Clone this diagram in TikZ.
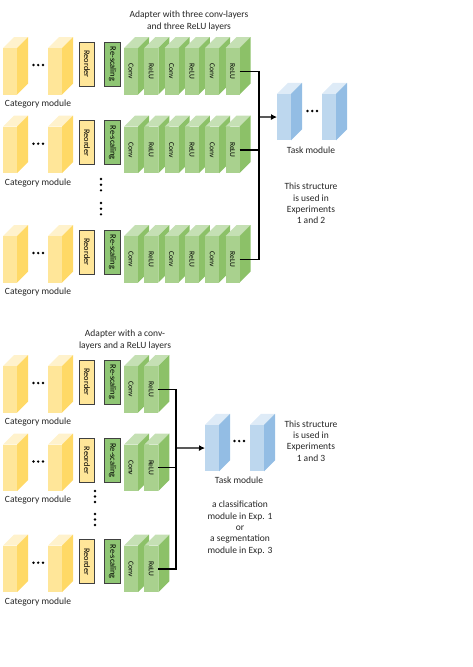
\documentclass[tikz,border=0pt]{standalone}
\usepackage{fontspec}
\setmainfont{Carlito}
\usepackage{tikz}
\usetikzlibrary{arrows.meta}

\definecolor{yellowfront}{HTML}{FFE699}
\definecolor{yellowside}{HTML}{FFD966}
\definecolor{yellowtop}{HTML}{FFF2CC}
\definecolor{greenfront}{HTML}{A9D18E}
\definecolor{greenside}{HTML}{8CC168}
\definecolor{greentop}{HTML}{C5E0B4}
\definecolor{greenbox}{HTML}{8FC674}
\definecolor{bluefront}{HTML}{BDD7EE}
\definecolor{blueside}{HTML}{93BDE4}
\definecolor{bluetop}{HTML}{DEEBF7}
\definecolor{textgrey}{HTML}{262626}

\tikzset{
    caption/.style={font=\fontsize{9.5}{11.4}\selectfont, text=textgrey, align=center, inner sep=0pt},
    layerbox/.style={draw=black!75, line width=1pt, rotate=-90, minimum width=44pt, minimum height=15.5pt, inner sep=0pt, font=\fontsize{8.4}{10}\selectfont},
    reorderbox/.style={layerbox, fill=yellowfront},
    rescalebox/.style={layerbox, fill=greenbox},
    face/.style={minimum width=14pt, minimum height=46.5pt, inner sep=0pt, outer sep=0pt},
    dotmark/.style={circle, fill=black, minimum size=2.6pt, inner sep=0pt},
    wire/.style={line width=1.1pt, black},
    wirearrow/.style={wire, -{Latex[length=6pt, width=6pt]}}
}

% name, x, y of the front face, colour prefix, text
\newcommand{\cuboid}[5]{
    \fill[#4top] (#2,#3) -- ++(11,-11) -- ++(14,0) -- ++(-11,11) -- cycle;
    \fill[#4side] (#2,#3) ++(14,0) -- ++(11,-11) -- ++(0,46.5) -- ++(-11,11) -- cycle;
    \node[face, fill=#4front, anchor=north west, label={[rotate=-90, font=\fontsize{7.5}{9}\selectfont]center:#5}] (#1) at (#2,#3) {};
}

\begin{document}
\begin{tikzpicture}[x=1pt, y=-1pt]
    \useasboundingbox (0,0) rectangle (473,667);

    % rows of both structures
    \foreach \row/\ya in {a/48, b/126.7, c/236, d/366, e/444.5, f/545.7} {
        \cuboid{\row cat1}{3}{\ya}{yellow}{}
        \cuboid{\row cat2}{48}{\ya}{yellow}{}
        \foreach \n/\xa in {1/33.5, 2/38.2, 3/43} {
            \node[dotmark] (\row dot\n) at (\xa,\ya+17) {};
        }
        \node[caption] (\row name) at (38,\ya+56) {Category module};
        \node[reorderbox] (\row order) at (87,\ya+16) {Reorder};
        \node[rescalebox] (\row scale) at (112.5,\ya+16) {Re-scaling};
    }

    % adapters
    \foreach \row/\ya in {a/48, b/126.7, c/236} {
        \foreach \n/\xa/\lab in {1/124/Conv, 2/144.3/ReLU, 3/164.6/Conv, 4/184.9/ReLU, 5/205.2/Conv, 6/225.5/ReLU} {
            \cuboid{\row layer\n}{\xa}{\ya}{green}{\lab}
        }
    }
    \foreach \row/\ya in {d/366, e/444.5, f/545.7} {
        \cuboid{\row layer1}{124}{\ya}{green}{Conv}
        \cuboid{\row layer2}{144.3}{\ya}{green}{ReLU}
    }

    % vertical dots between the rows
    \foreach \n/\ya in {1/179, 2/184.7, 3/190.3, 4/203, 5/208.7, 6/214.3} {
        \node[dotmark] (updot\n) at (101,\ya) {};
    }
    \foreach \n/\ya in {1/491, 2/496.5, 3/502, 4/514, 5/519.5, 6/525} {
        \node[dotmark] (lowdot\n) at (95,\ya) {};
    }

    % task modules
    \cuboid{task1}{277}{93.8}{blue}{}
    \cuboid{task2}{322}{93.8}{blue}{}
    \cuboid{task3}{205}{424.8}{blue}{}
    \cuboid{task4}{250}{424.8}{blue}{}
    \foreach \n/\xa in {1/307.5, 2/312.2, 3/317} {
        \node[dotmark] (updots\n) at (\xa,111) {};
    }
    \foreach \n/\xa in {1/234.5, 2/239.2, 3/244} {
        \node[dotmark] (lowdots\n) at (\xa,441) {};
    }

    % connectors
    \coordinate (upbus) at (259,117);
    \coordinate (lowbus) at (176,448);
    \draw[wire] (alayer6.east) -| (upbus);
    \draw[wire] (clayer6.east) -| (upbus);
    \draw[wire] (blayer6.east) -- (blayer6.east -| upbus);
    \draw[wirearrow] (upbus) -- (task1.west);
    \draw[wire] (dlayer2.east) -| (lowbus);
    \draw[wire] (flayer2.east) -| (lowbus);
    \draw[wire] (elayer2.east) -- (elayer2.east -| lowbus);
    \draw[wirearrow] (lowbus) -- (task3.west);

    % texts
    \node[caption] (uptitle) at (189,21) {Adapter with three conv-layers\\and three ReLU layers};
    \node[caption] (lowtitle) at (125,340) {Adapter with a conv-\\layers and a ReLU layers};
    \node[caption] (uptask) at (311,150) {Task module};
    \node[caption] (lowtask) at (239,480) {Task module};
    \node[caption] (upnote) at (311,203.5) {This structure\\is used in\\Experiments\\1 and 2};
    \node[caption] (lownote) at (311,441) {This structure\\is used in\\Experiments\\1 and 3};
    \node[caption] (lowinfo) at (240,528) {a classification\\module in Exp. 1\\or\\a segmentation\\module in Exp. 3};
\end{tikzpicture}
\end{document}
